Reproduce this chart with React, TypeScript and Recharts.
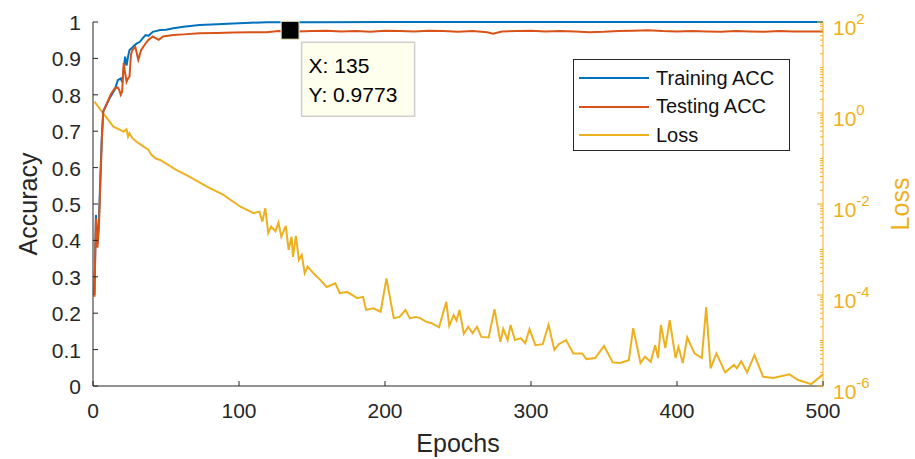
import { LineChart, Line, XAxis, YAxis, ReferenceDot } from "recharts";

const FONT = '"Liberation Sans", Arial, Helvetica, sans-serif';
const AXIS = "#262626";

// series
const seriesNames = ["Training ACC", "Testing ACC", "Loss"];
const seriesColors = ["#0072BD", "#D95319", "#EDB120"];

const trainEpochs = [1, 2, 3, 4, 5, 6, 7, 9, 12, 15, 17, 19, 20, 21, 22, 23, 24, 25, 27, 28, 30, 32, 34, 36, 38, 41, 43, 46, 50, 55, 62, 73, 85, 96, 108, 119, 127, 150, 200, 250, 300, 350, 400, 450, 500];
const trainAcc = [0.25, 0.47, 0.39, 0.45, 0.57, 0.68, 0.755, 0.772, 0.795, 0.815, 0.84, 0.845, 0.835, 0.87, 0.905, 0.88, 0.905, 0.923, 0.93, 0.935, 0.941, 0.945, 0.955, 0.964, 0.962, 0.973, 0.975, 0.978, 0.979, 0.983, 0.987, 0.992, 0.994, 0.996, 0.998, 0.999, 0.9995, 0.9996, 0.9997, 0.9997, 0.9998, 0.9998, 0.9999, 0.9999, 0.9999];

const testEpochs = [1, 2, 3, 4, 5, 6, 7, 9, 12, 15, 17, 18, 19, 20, 21, 22, 23, 24, 25, 26, 27, 29, 31, 33, 36, 38, 41, 45, 48, 55, 62, 73, 85, 96, 108, 119, 127, 130, 135, 140, 150, 160, 170, 180, 190, 200, 210, 220, 230, 240, 250, 260, 270, 274, 280, 290, 300, 310, 320, 330, 340, 350, 360, 370, 380, 390, 400, 410, 420, 430, 440, 450, 460, 470, 480, 490, 500];
const testAcc = [0.245, 0.46, 0.38, 0.43, 0.55, 0.67, 0.753, 0.77, 0.8, 0.818, 0.82, 0.813, 0.8, 0.81, 0.887, 0.86, 0.836, 0.845, 0.85, 0.91, 0.923, 0.932, 0.896, 0.923, 0.941, 0.951, 0.96, 0.951, 0.96, 0.964, 0.966, 0.969, 0.97, 0.971, 0.972, 0.972, 0.975, 0.974, 0.9773, 0.974, 0.975, 0.976, 0.974, 0.975, 0.973, 0.976, 0.975, 0.974, 0.976, 0.975, 0.973, 0.975, 0.972, 0.968, 0.974, 0.975, 0.976, 0.974, 0.975, 0.974, 0.972, 0.973, 0.975, 0.976, 0.977, 0.975, 0.974, 0.975, 0.974, 0.973, 0.975, 0.974, 0.973, 0.975, 0.974, 0.974, 0.974];

const lossEpochs = [1, 7, 14, 21, 23, 24, 25, 27, 30, 32, 35, 38, 40, 43, 46, 57, 66, 78, 89, 101, 110, 114, 116, 118, 120, 122, 125, 127, 129, 132, 134, 136, 137, 139, 141, 143, 145, 147, 151, 156, 160, 166, 169, 174, 181, 185, 187, 192, 197, 201, 206, 210, 214, 217, 221, 224, 228, 232, 237, 242, 244, 247, 249, 251, 254, 257, 260, 263, 266, 271, 275, 279, 281, 284, 286, 289, 293, 296, 299, 303, 308, 312, 316, 319, 324, 329, 335, 338, 344, 350, 356, 361, 367, 370, 375, 378, 382, 385, 387, 389, 392, 395, 399, 401, 404, 407, 412, 417, 420, 423, 427, 433, 439, 441, 444, 448, 453, 459, 466, 477, 483, 492, 500];
const lossValues = [1.78, 0.98, 0.5, 0.39, 0.44, 0.3, 0.36, 0.28, 0.23, 0.21, 0.18, 0.155, 0.12, 0.1, 0.093, 0.056, 0.04, 0.024, 0.016, 0.0087, 0.0063, 0.0068, 0.0041, 0.0081, 0.0023, 0.0032, 0.0025, 0.0039, 0.0019, 0.0033, 0.00098, 0.0019, 0.00069, 0.002, 0.00059, 0.00076, 0.0003, 0.00042, 0.0003, 0.00021, 0.00015, 0.00018, 0.00011, 0.000117, 8.5e-5, 9.1e-5, 4.7e-5, 5.1e-5, 4.3e-5, 2.3e-4, 3.1e-5, 3.3e-5, 4.7e-5, 3.1e-5, 3.3e-5, 3.1e-5, 2.6e-5, 2.4e-5, 1.95e-5, 7.1e-5, 2.1e-5, 3.6e-5, 2.75e-5, 4.7e-5, 1.4e-5, 2.0e-5, 1.45e-5, 2.0e-5, 1.2e-5, 1.17e-5, 4.9e-5, 9.3e-6, 1.8e-5, 1.02e-5, 2.2e-5, 1.02e-5, 1.12e-5, 8.7e-6, 1.78e-5, 7.9e-6, 8.3e-6, 2.2e-5, 6.2e-6, 8.3e-6, 1.02e-5, 5.2e-6, 5.2e-6, 3.9e-6, 4.1e-6, 7.6e-6, 3.3e-6, 3.2e-6, 3.7e-6, 1.86e-5, 3.2e-6, 4.4e-6, 3.4e-6, 7.9e-6, 4.1e-6, 2.2e-5, 6.8e-6, 2.8e-5, 4.1e-6, 7.2e-6, 3.2e-6, 1.17e-5, 5.2e-6, 4.1e-6, 5.4e-5, 2.45e-6, 5.2e-6, 2.0e-6, 2.9e-6, 2.45e-6, 3.5e-6, 2.0e-6, 4.8e-6, 1.6e-6, 1.5e-6, 1.8e-6, 1.35e-6, 1.1e-6, 1.8e-6];

// data tip
const tipEpoch = 135;
const tipValue = 0.9773;

// ticks
const epochTicks = [0, 100, 200, 300, 400, 500];
const accTicks = [0, 0.1, 0.2, 0.3, 0.4, 0.5, 0.6, 0.7, 0.8, 0.9, 1];
const lossMajorTicks = [1e-6, 1e-4, 1e-2, 1, 100];
const lossDecades = [-6, -5, -4, -3, -2, -1, 0, 1];
const lossMinorTicks = lossDecades.flatMap((d) =>
  [1, 2, 3, 4, 5, 6, 7, 8, 9].map((m) => m * Math.pow(10, d))
).filter((v) => !lossMajorTicks.some((t) => Math.abs(t - v) / t < 1e-9));

const toRows = (xs: number[], ys: number[]) => xs.map((epoch, i) => ({ epoch, v: ys[i] }));
const trainData = toRows(trainEpochs, trainAcc);
const testData = toRows(testEpochs, testAcc);
const lossData = toRows(lossEpochs, lossValues);

const fmtAcc = (v: number) => (v === 0 || v === 1 ? String(v) : v.toFixed(1));

function AccTick({ x, y, payload }: any) {
  return (
    <g>
      <line x1={x} x2={x + 5} y1={y} y2={y} stroke={AXIS} strokeWidth={1} />
      <text x={x - 12} y={y + 8} textAnchor="end" fontSize={21} fill={AXIS} fontFamily={FONT}>
        {fmtAcc(payload.value)}
      </text>
    </g>
  );
}

function EpochTick({ x, y, payload }: any) {
  return (
    <g>
      <line x1={x} x2={x} y1={y} y2={y - 5} stroke={AXIS} strokeWidth={1} />
      <text x={x} y={y + 32} textAnchor="middle" fontSize={21} fill={AXIS} fontFamily={FONT}>
        {payload.value}
      </text>
    </g>
  );
}

function LossTick({ x, y, payload }: any) {
  const v = payload.value;
  const major = lossMajorTicks.some((t) => Math.abs(t - v) / t < 1e-9);
  const exp = Math.round(Math.log10(v));
  return (
    <g>
      <line x1={x} x2={x - (major ? 6 : 3)} y1={y} y2={y} stroke={seriesColors[2]} strokeWidth={1} />
      {major && (
        <text x={x + 10} y={y + 13} fontSize={21} fill={seriesColors[2]} fontFamily={FONT}>
          10
          <tspan dy={-11} fontSize={15}>
            {exp}
          </tspan>
        </text>
      )}
    </g>
  );
}

function TipMarker({ cx, cy }: any) {
  return (
    <g fontFamily={FONT}>
      <rect x={cx - 9} y={cy - 9} width={18} height={18} fill="#000" stroke="#E4E2C0" strokeWidth={1.2} />
      <rect x={cx + 11.5} y={cy + 12} width={113} height={74} fill="#FFFFEE" stroke="#CFCFCF" strokeWidth={1.5} />
      <text x={cx + 18.5} y={cy + 43} fontSize={21} fill="#000">{`X: ${tipEpoch}`}</text>
      <text x={cx + 18.5} y={cy + 72} fontSize={21} fill="#000">{`Y: ${tipValue}`}</text>
    </g>
  );
}

export default function App() {
  return (
    <div style={{ position: "absolute", left: 0, top: 0, width: 915, height: 459, background: "#fff", fontFamily: FONT }}>
      <LineChart width={915} height={459} margin={{ top: 22, right: 0, bottom: 0, left: 0 }}>
        <XAxis
          dataKey="epoch"
          type="number"
          domain={[0, 500]}
          ticks={epochTicks}
          interval={0}
          height={73}
          tickSize={0}
          tickMargin={0}
          tickLine={false}
          tick={<EpochTick />}
          axisLine={{ stroke: AXIS, strokeWidth: 1 }}
          label={{
            content: ({ viewBox }: any) => (
              <text x={viewBox.x + viewBox.width / 2} y={viewBox.y + 66} textAnchor="middle" fontSize={25} fill={AXIS} fontFamily={FONT}>
                Epochs
              </text>
            ),
          }}
        />
        <YAxis
          yAxisId="acc"
          domain={[0, 1]}
          ticks={accTicks}
          interval={0}
          width={93}
          tickSize={0}
          tickMargin={0}
          tickLine={false}
          tick={<AccTick />}
          axisLine={{ stroke: AXIS, strokeWidth: 1 }}
          label={{
            content: ({ viewBox }: any) => {
              const lx = viewBox.x + 37;
              const ly = viewBox.y + viewBox.height / 2;
              return (
                <text x={lx} y={ly} transform={`rotate(-90 ${lx} ${ly})`} textAnchor="middle" fontSize={25} fill={AXIS} fontFamily={FONT}>
                  Accuracy
                </text>
              );
            },
          }}
        />
        <YAxis
          yAxisId="loss"
          orientation="right"
          scale="log"
          domain={[1e-6, 100]}
          allowDataOverflow
          ticks={[...lossMajorTicks, ...lossMinorTicks]}
          interval={0}
          width={92}
          tickSize={0}
          tickMargin={0}
          tickLine={false}
          tick={<LossTick />}
          axisLine={{ stroke: seriesColors[2], strokeWidth: 1 }}
          label={{
            content: ({ viewBox }: any) => {
              const lx = viewBox.x + 86;
              const ly = viewBox.y + viewBox.height / 2;
              return (
                <text x={lx} y={ly} transform={`rotate(-90 ${lx} ${ly})`} textAnchor="middle" fontSize={25} fill={seriesColors[2]} fontFamily={FONT}>
                  Loss
                </text>
              );
            },
          }}
        />
        <Line yAxisId="loss" data={lossData} dataKey="v" name={seriesNames[2]} stroke={seriesColors[2]} strokeWidth={2} dot={false} isAnimationActive={false} />
        <Line yAxisId="acc" data={trainData} dataKey="v" name={seriesNames[0]} stroke={seriesColors[0]} strokeWidth={2} dot={false} isAnimationActive={false} />
        <Line yAxisId="acc" data={testData} dataKey="v" name={seriesNames[1]} stroke={seriesColors[1]} strokeWidth={2} dot={false} isAnimationActive={false} />
        <ReferenceDot yAxisId="acc" x={tipEpoch} y={tipValue} r={9} ifOverflow="visible" shape={<TipMarker />} />
      </LineChart>
      <div
        style={{
          position: "absolute",
          left: 573,
          top: 59,
          width: 217,
          height: 92,
          boxSizing: "border-box",
          border: `1px solid ${AXIS}`,
          background: "#fff",
        }}
      >
        {seriesNames.map((name, i) => (
          <div key={name} style={{ position: "absolute", left: 0, top: 4 + i * 28.5, height: 28, display: "flex", alignItems: "center" }}>
            <div style={{ marginLeft: 5, width: 70, height: 2, background: seriesColors[i] }} />
            <span style={{ marginLeft: 7, fontSize: 20, color: "#111", whiteSpace: "nowrap" }}>{name}</span>
          </div>
        ))}
      </div>
    </div>
  );
}
